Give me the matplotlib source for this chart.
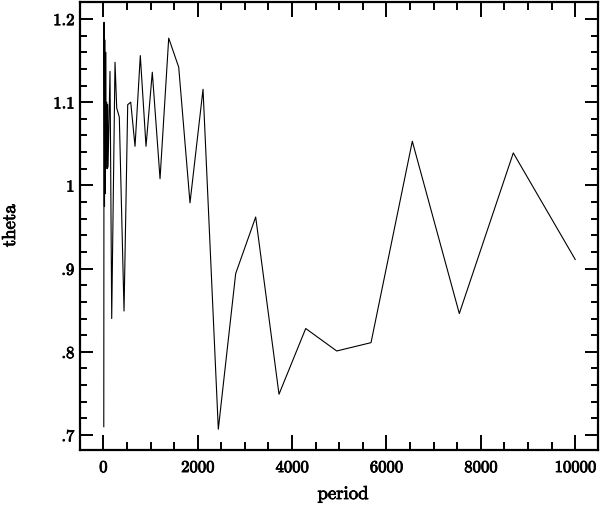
import matplotlib
matplotlib.use("Agg")
import matplotlib.pyplot as plt
import matplotlib.patheffects as pe
from matplotlib.ticker import FixedLocator, MultipleLocator

period = [10, 15, 25, 30, 40, 50, 60, 70, 80, 90, 100,
          142, 178, 248, 284, 339, 439, 517, 581, 672, 784, 905, 1038,
          1202, 1386, 1598, 1837, 2113, 2437, 2805, 3229, 3723, 4289,
          4946, 5673, 6548, 7544, 8688, 10000]
theta = [0.710, 1.196, 0.975, 1.175, 0.990, 1.160, 1.030, 1.100, 1.020, 1.097, 1.022,
         1.137, 0.840, 1.148, 1.093, 1.082, 0.849, 1.097, 1.100, 1.047, 1.156, 1.047, 1.136,
         1.008, 1.177, 1.142, 0.979, 1.1155, 0.707, 0.894, 0.962, 0.749, 0.828,
         0.801, 0.811, 1.053, 0.846, 1.039, 0.911]

xtick_values = [0, 2000, 4000, 6000, 8000, 10000]
xtick_labels = ["0", "2000", "4000", "6000", "8000", "10000"]
ytick_values = [0.7, 0.8, 0.9, 1.0, 1.1, 1.2]
ytick_labels = [".7", ".8", ".9", "1", "1.1", "1.2"]

plt.rcParams['axes.unicode_minus'] = False
plt.rcParams['font.family'] = ['cmr10', 'DejaVu Serif']

fig = plt.figure(figsize=(6.0, 5.07), dpi=100)
ax = fig.add_axes([80/600, 57/507, 518/600, 448/507])

ax.plot(period, theta, color='black', lw=0.8)

ax.set_xlim(-494, 10483)
ax.set_ylim(0.682, 1.2204)

ax.xaxis.set_major_locator(FixedLocator(xtick_values))
ax.set_xticklabels(xtick_labels)
ax.xaxis.set_minor_locator(MultipleLocator(500))
ax.yaxis.set_major_locator(FixedLocator(ytick_values))
ax.set_yticklabels(ytick_labels)
ax.yaxis.set_minor_locator(MultipleLocator(0.02))

ax.tick_params(axis='both', which='both', direction='in', top=True, right=True,
               width=1.4, colors='black', labelsize=12)
ax.tick_params(axis='x', which='major', length=11, pad=7)
ax.tick_params(axis='x', which='minor', length=6)
ax.tick_params(axis='y', which='major', length=9.5, pad=4)
ax.tick_params(axis='y', which='minor', length=5)
for s in ax.spines.values():
    s.set_linewidth(1.6)

stroke = [pe.withStroke(linewidth=0.6, foreground='black')]
for lab in ax.get_xticklabels() + ax.get_yticklabels():
    lab.set_path_effects(stroke)

xl = ax.set_xlabel("period", fontsize=13.5)
yl = ax.set_ylabel("theta", fontsize=13.5)
xl.set_path_effects(stroke)
yl.set_path_effects(stroke)
ax.xaxis.set_label_coords(263/518, -44/448)
ax.yaxis.set_label_coords(-70/518, 0.5)
xl.set_va('center')
yl.set_va('center')

fig.savefig("out.png", dpi=100)
